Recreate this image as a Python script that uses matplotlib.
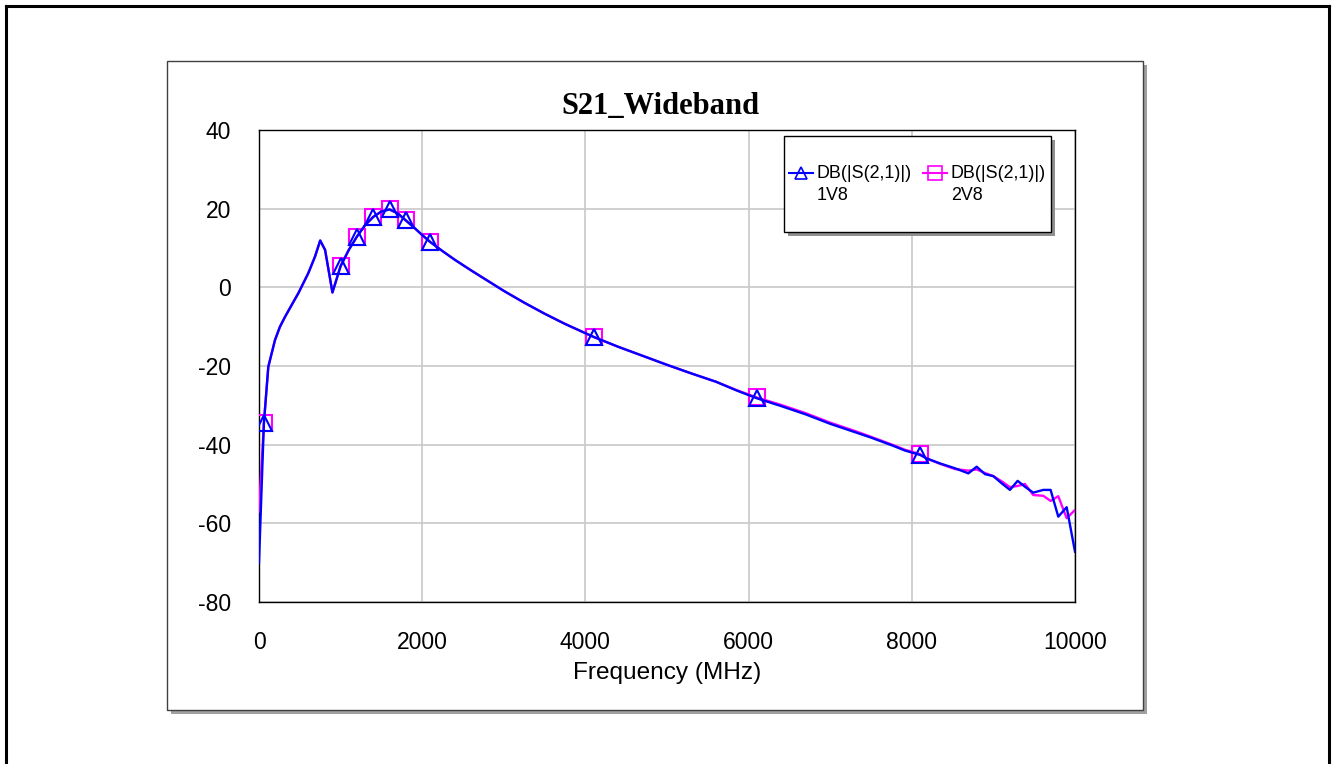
import matplotlib
matplotlib.use("Agg")
import matplotlib.pyplot as plt
from matplotlib.patches import Rectangle
from matplotlib.lines import Line2D

# ---------------- data ----------------
freq_mhz = [0, 60, 114, 155, 196, 257, 319, 400, 482, 604, 686, 750, 810, 900,
            1000, 1100, 1200, 1300, 1400, 1500, 1600, 1700, 1800, 1900, 2000, 2100,
            2250, 2400, 2600, 2800, 3000, 3250, 3500, 3750, 4100, 4400, 4700, 5000,
            5300, 5600, 5850, 6100, 6400, 6700, 7000, 7300, 7500, 7773, 7917, 8100,
            8182, 8350, 8529, 8693, 8795, 8897, 8999, 9100, 9203, 9297, 9387, 9488,
            9611, 9701, 9795, 9898, 10000]

s21_1v8 = [-70.0, -34.5, -20.2, -16.8, -13.4, -10.0, -7.5, -4.5, -1.5, 3.6, 7.8,
           11.9, 9.5, -1.3, 5.4, 9.5, 12.9, 15.8, 17.9, 19.3, 19.8, 18.8, 17.0, 15.2,
           13.3, 11.5, 9.2, 7.0, 4.3, 1.7, -0.9, -3.9, -6.7, -9.3, -12.6, -15.1,
           -17.4, -19.7, -21.9, -24.0, -26.2, -28.2, -30.2, -32.3, -34.7, -36.8,
           -38.2, -40.3, -41.5, -42.6, -43.5, -44.8, -46.0, -47.3, -45.6, -47.5,
           -48.0, -49.8, -51.5, -49.2, -50.7, -52.2, -51.5, -51.5, -58.3, -55.9, -67.2]

s21_2v8 = [-57.0, -34.5, -20.2, -16.8, -13.4, -10.0, -7.5, -4.5, -1.5, 3.6, 7.8,
           11.9, 9.5, -1.3, 5.4, 9.5, 12.9, 15.8, 17.9, 19.3, 19.8, 18.8, 17.0, 15.2,
           13.3, 11.5, 9.2, 7.0, 4.3, 1.7, -0.9, -3.9, -6.7, -9.3, -12.6, -15.1,
           -17.4, -19.7, -21.9, -24.0, -26.1, -28.0, -29.9, -32.0, -34.4, -36.5,
           -38.0, -40.1, -41.3, -42.4, -43.5, -44.9, -46.2, -46.6, -46.3, -47.2,
           -48.0, -49.3, -50.8, -50.5, -50.0, -52.8, -53.0, -54.3, -53.1, -58.7, -56.6]

marker_freqs = [60, 1000, 1200, 1400, 1600, 1800, 2100, 4100, 6100, 8100]

title = "S21_Wideband"
xlabel = "Frequency (MHz)"
series_labels = ["DB(|S(2,1)|)", "DB(|S(2,1)|)"]
series_names = ["1V8", "2V8"]
xticks = [0, 2000, 4000, 6000, 8000, 10000]
yticks = [-80, -60, -40, -20, 0, 20, 40]

# ---------------- layout ----------------
W, H = 1332, 764
plt.rcParams['font.family'] = ['Liberation Sans', 'DejaVu Sans']
fig = plt.figure(figsize=(W / 100, H / 100), dpi=100)


def fx(x):
    return x / W


def fy(y):
    return 1 - y / H


# outer border (left, top, right)
for xs, ys in [([6, 6], [6, 770]), ([6, 1329], [6, 6]), ([1329, 1329], [6, 770])]:
    fig.add_artist(Line2D([fx(v) for v in xs], [fy(v) for v in ys], color='black',
                          lw=2.2, transform=fig.transFigure, zorder=0.2))

# inner panel with shadow
px0, py0, px1, py1 = 167, 61, 1143, 710
fig.add_artist(Rectangle((fx(px0 + 4), fy(py1 + 4)), (px1 - px0) / W, (py1 - py0) / H,
                         transform=fig.transFigure, facecolor='#a0a0a0',
                         edgecolor='none', zorder=0.1))
fig.add_artist(Rectangle((fx(px0), fy(py1)), (px1 - px0) / W, (py1 - py0) / H,
                         transform=fig.transFigure, facecolor='white',
                         edgecolor='#404040', lw=1.0, zorder=0.2))

ax_l, ax_t, ax_r, ax_b = 259, 130, 1075, 602
ax = fig.add_axes([fx(ax_l), fy(ax_b), (ax_r - ax_l) / W, (ax_b - ax_t) / H])
ax.set_zorder(1)
ax.set_xlim(0, 10000)
ax.set_ylim(-80, 40)
ax.set_xticks(xticks)
ax.set_yticks(yticks)
ax.set_xticklabels([str(v) for v in xticks])
ax.set_yticklabels([str(v) for v in yticks])
ax.tick_params(length=0, labelsize=16.5, pad=20)
ax.tick_params(axis='x', pad=21)
ax.grid(True, color='#c8c8c8', lw=1.2)
ax.set_axisbelow(True)
for s in ax.spines.values():
    s.set_color('black')
    s.set_linewidth(1.0)

mk_idx = [freq_mhz.index(f) for f in marker_freqs]
ax.plot(freq_mhz, s21_2v8, color='#ff00ff', lw=1.7, marker='s', markersize=11.5,
        markerfacecolor='none', markeredgecolor='#ff00ff', markeredgewidth=1.5,
        markevery=mk_idx, zorder=3)
ax.plot(freq_mhz, s21_1v8, color='#0000ff', lw=1.7, marker='^', markersize=11.5,
        markerfacecolor='none', markeredgecolor='#0000ff', markeredgewidth=1.5,
        markevery=mk_idx, zorder=4)

fig.text(fx(660), fy(107), title, ha='center', va='center', fontsize=22,
         fontweight='bold', family='Liberation Serif', zorder=2)
fig.text(fx(667), fy(673), xlabel, ha='center', va='center', fontsize=17.6, zorder=2)

# legend box (drawn manually)
lx0, ly0, lx1, ly1 = 784, 136, 1051, 232
fig.add_artist(Rectangle((fx(lx0 + 4), fy(ly1 + 4)), (lx1 - lx0) / W, (ly1 - ly0) / H,
                         transform=fig.transFigure, facecolor='#909090',
                         edgecolor='none', zorder=5))
fig.add_artist(Rectangle((fx(lx0), fy(ly1)), (lx1 - lx0) / W, (ly1 - ly0) / H,
                         transform=fig.transFigure, facecolor='white',
                         edgecolor='black', lw=1.0, zorder=6))
entries = [(789, 813, '#0000ff', '^', 8.5, 817), (923, 947, '#ff00ff', 's', 10, 951)]
for (h0, h1, col, mk, ms, tx), lab, name in zip(entries, series_labels, series_names):
    fig.add_artist(Line2D([fx(h0), fx(h1)], [fy(173), fy(173)], color=col, lw=1.5,
                          transform=fig.transFigure, zorder=7))
    fig.add_artist(Line2D([fx((h0 + h1) / 2)], [fy(173)], color=col, marker=mk,
                          markersize=ms, markerfacecolor='none', markeredgecolor=col,
                          markeredgewidth=1.2, transform=fig.transFigure, zorder=7))
    fig.text(fx(tx), fy(173), lab, ha='left', va='center', fontsize=12.9, zorder=8)
    fig.text(fx(tx), fy(195), name, ha='left', va='center', fontsize=12.9, zorder=8)

fig.savefig('out.png', dpi=100)
